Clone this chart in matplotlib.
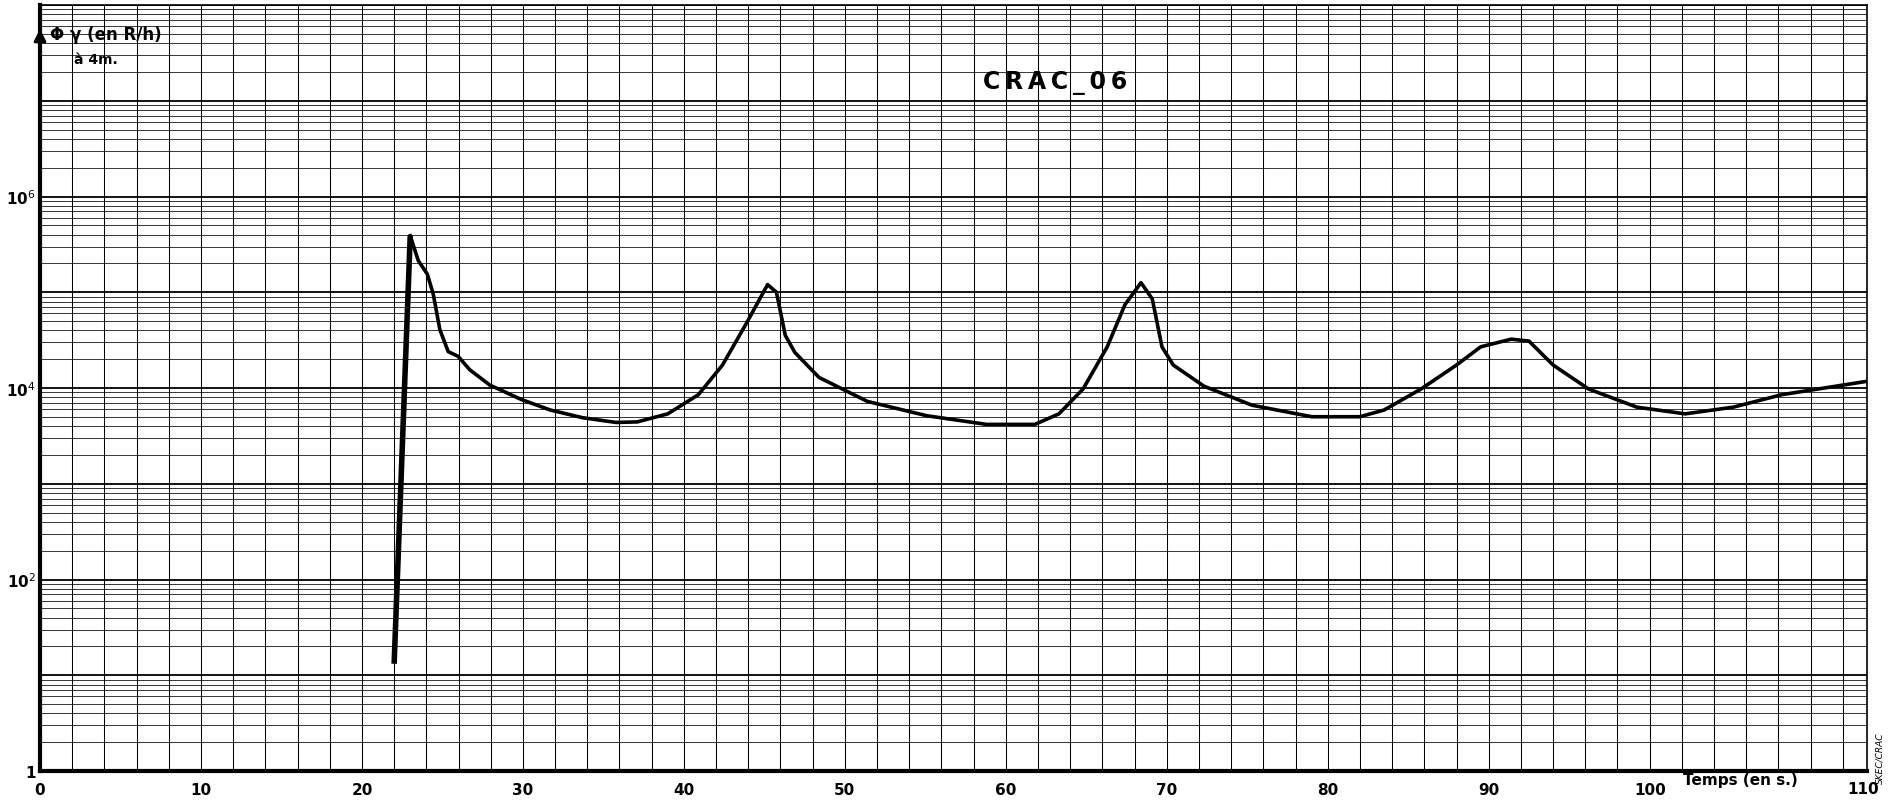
import numpy as np
import matplotlib
matplotlib.use("Agg")
import matplotlib.pyplot as plt
from matplotlib.ticker import FixedLocator, NullFormatter

# ---- data ----
time_s = [22.0, 23.0, 23.5, 24.06, 24.43, 24.84, 25.36, 25.98, 26.7, 27.95, 29.9,
          31.7, 33.7, 35.8, 37.1, 39.0, 40.9, 42.4, 43.9, 45.2, 45.75, 46.3, 46.9,
          48.4, 51.4, 55.1, 58.8, 61.8, 63.3, 64.8, 66.3, 67.4, 68.4, 69.1, 69.7,
          70.4, 72.3, 75.3, 79.0, 82.0, 83.5, 85.8, 88.0, 89.5, 91.4, 92.5, 94.0,
          96.2, 99.2, 102.2, 105.2, 108.2, 113.5]
log_flux = [1.12, 5.59, 5.33, 5.19, 4.98, 4.61, 4.38, 4.33, 4.19, 4.03, 3.88,
            3.77, 3.69, 3.64, 3.646, 3.73, 3.93, 4.24, 4.68, 5.08, 5.0, 4.55, 4.37,
            4.11, 3.86, 3.71, 3.62, 3.62, 3.73, 3.99, 4.43, 4.87, 5.10, 4.93, 4.43,
            4.24, 4.02, 3.82, 3.70, 3.70, 3.77, 3.99, 4.24, 4.43, 4.51, 4.49, 4.24,
            3.99, 3.80, 3.73, 3.80, 3.93, 4.07]
flux = [10 ** v for v in log_flux]

x_ticks = [0, 10, 20, 30, 40, 50, 60, 70, 80, 90, 100]
x_tick_labels = ["0", "10", "20", "30", "40", "50", "60", "70", "80", "90", "100"]
y_ticks = [1, 1e2, 1e4, 1e6]
y_tick_labels = ["1", r"10$^{2}$", r"10$^{4}$", r"10$^{6}$"]

W, H = 1888, 804
fig = plt.figure(figsize=(W / 100, H / 100), dpi=100)
left, right, bottom, top = 40, 1867, 772, 6
ax = fig.add_axes([left / W, (H - bottom) / H, (right - left) / W, (bottom - top) / H])

ax.set_yscale("log")
ax.set_xlim(0, 113.5)
ax.set_ylim(1, 1e8)

# grid: vertical every 2 s, horizontal log decades + minors
for xv in np.arange(2, 113, 2):
    ax.axvline(xv, color="black", lw=0.75, zorder=1)
for d in range(0, 8):
    for m in range(2, 10):
        ax.axhline(m * 10 ** d, color="black", lw=0.55, zorder=1)
    ax.axhline(10 ** d, color="black", lw=1.3, zorder=1)
ax.axhline(1e8, color="black", lw=1.3, zorder=1)

# curve
ax.plot(time_s[:2], flux[:2], color="black", lw=4.0, solid_capstyle="butt", zorder=3)
ax.plot(time_s[1:], flux[1:], color="black", lw=2.6, solid_joinstyle="round", zorder=3)

# axes
for s in ["left", "bottom"]:
    ax.spines[s].set_linewidth(3)
for s in ["top", "right"]:
    ax.spines[s].set_linewidth(1.2)

ax.xaxis.set_major_locator(FixedLocator(x_ticks))
ax.set_xticklabels(x_tick_labels)
ax.yaxis.set_major_locator(FixedLocator(y_ticks))
ax.set_yticklabels(y_tick_labels)
ax.yaxis.set_minor_formatter(NullFormatter())
ax.tick_params(axis="both", which="both", length=0, labelsize=11)
ax.tick_params(axis="x", pad=8)
ax.tick_params(axis="y", pad=3)
for lab in ax.get_xticklabels() + ax.get_yticklabels():
    lab.set_fontweight("bold")

# '110' label at right end, axis title texts
fig.text(1863 / W, 1 - 790 / H, "110", ha="center", va="center",
         fontsize=11, fontweight="bold")
fig.text(1740 / W, 1 - 781 / H, "Temps (en s.)", ha="center", va="center", fontsize=11,
         fontweight="bold", family="DejaVu Sans Condensed")
fig.text(50 / W, 1 - 35 / H, "Φ γ (en R/h)", ha="left", va="center",
         fontsize=12, fontweight="bold", family="DejaVu Sans Condensed")
fig.text(74 / W, 1 - 60 / H, "à 4m.", ha="left", va="center",
         fontsize=10, fontweight="bold")
fig.text(1055 / W, 1 - 83 / H, "C\u2009R\u2009A\u2009C\u2009_\u20090\u20096",
         ha="center", va="center", fontsize=17, fontweight="bold")
fig.text(1880 / W, 1 - 758 / H, "SKEC/CRAC", rotation=90, ha="center",
         va="center", fontsize=6.5, style="italic")

# arrow on y axis top
ax.annotate("", xy=(0, 10 ** 7.78), xytext=(0, 10 ** 7.45),
            arrowprops=dict(arrowstyle="-|>", color="black", lw=2, mutation_scale=18),
            annotation_clip=False)

fig.savefig("out.png", dpi=100)
